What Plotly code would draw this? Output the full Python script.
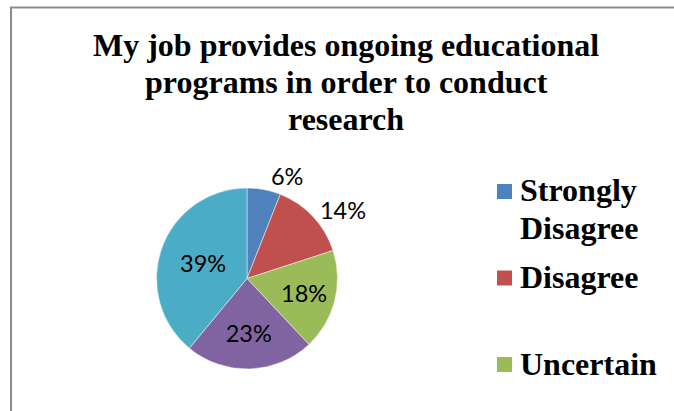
import plotly.graph_objects as go

# Survey responses
labels = ["Strongly Disagree", "Disagree", "Uncertain", "Agree", "Strongly Agree"]
shares = [6, 14, 18, 23, 39]
colors = ["#4F81BD", "#C0504D", "#9BBB59", "#8064A2", "#4BACC6"]
label_positions = ["outside", "outside", "inside", "inside", "inside"]
title_lines = [
    "My job provides ongoing educational",
    "programs in order to conduct",
    "research",
]

W, H = 674, 411


def px_x(x):
    return x / W


def px_y(y):
    return 1 - y / H


# pie placement (pixels)
cx, cy, r = 247, 278.5, 90.5
pct_font = dict(family="Lato, 'Liberation Sans', sans-serif", size=23.5, color="#000000")

fig = go.Figure(
    go.Pie(
        labels=labels,
        values=shares,
        sort=False,
        direction="clockwise",
        rotation=0,
        marker=dict(colors=colors, line=dict(color="rgba(255,255,255,0.6)", width=0.8)),
        texttemplate="%{percent:.0%}",
        textposition=label_positions,
        insidetextorientation="horizontal",
        textfont=pct_font,
        outsidetextfont=pct_font,
        insidetextfont=pct_font,
        domain=dict(x=[px_x(cx - r), px_x(cx + r)], y=[px_y(cy + r), px_y(cy - r)]),
        showlegend=False,
        hoverinfo="label+percent",
    )
)

annotations = []
shapes = []

# title, one annotation per line
title_centers = [45, 82, 119]
for line, yc in zip(title_lines, title_centers):
    annotations.append(dict(
        text=f"<b>{line}</b>", x=px_x(346), y=px_y(yc), xref="paper", yref="paper",
        xanchor="center", yanchor="middle", showarrow=False,
        font=dict(family="'Liberation Serif', 'Times New Roman', serif", size=32, color="#000000"),
    ))

# hand-drawn legend (the box runs past the bottom edge of the chart area)
leg_top = 184
leg_step = 86.5
line_gap = 37.3
sq = 15
for i, (lab, col) in enumerate(zip(labels, colors)):
    top = leg_top + i * leg_step
    if top > H:
        break
    shapes.append(dict(
        type="rect", xref="paper", yref="paper",
        x0=px_x(497), x1=px_x(497 + sq), y0=px_y(top + sq), y1=px_y(top),
        fillcolor=col, line=dict(width=0),
    ))
    words = lab.split(" ")
    lines = [" ".join(words)] if len(lab) <= 10 else words
    for j, ln in enumerate(lines):
        annotations.append(dict(
            text=f"<b>{ln}</b>", x=px_x(518), y=px_y(top + sq / 2 - 1 + j * line_gap),
            xref="paper", yref="paper", xanchor="left", yanchor="middle", showarrow=False,
            font=dict(family="'Liberation Serif', 'Times New Roman', serif", size=32, color="#000000"),
        ))

# chart-area border
shapes.append(dict(
    type="rect", xref="paper", yref="paper",
    x0=px_x(11), x1=1.02, y0=-0.02, y1=px_y(7.5),
    line=dict(color="#8C8C8C", width=2), fillcolor="rgba(0,0,0,0)", layer="above",
))

fig.update_layout(
    width=W, height=H,
    margin=dict(l=0, r=0, t=0, b=0),
    paper_bgcolor="#FFFFFF",
    plot_bgcolor="#FFFFFF",
    annotations=annotations,
    shapes=shapes,
)

fig.write_html("out.html")
